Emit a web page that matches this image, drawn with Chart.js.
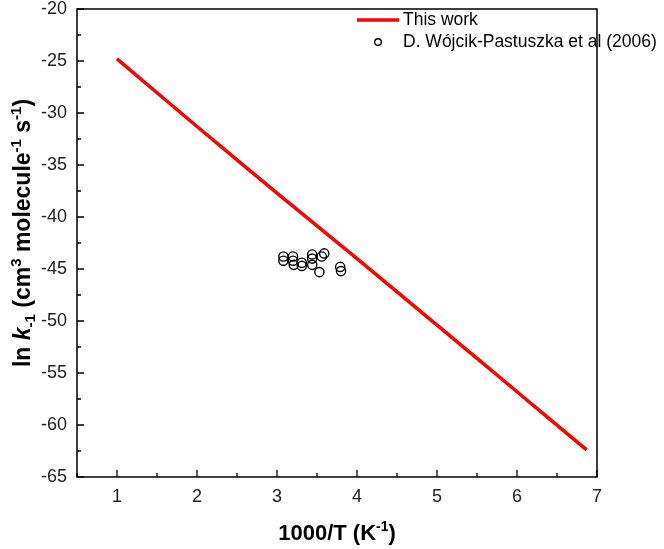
<!DOCTYPE html>
<html>
<head>
<meta charset="utf-8">
<script src="https://cdn.jsdelivr.net/npm/chart.js@4"></script>
<style>
  html, body { margin: 0; padding: 0; background: #fff; }
  #wrap { width: 664px; height: 549px; }
</style>
</head>
<body>
<div id="wrap"><canvas id="chart" width="664" height="549"></canvas></div>
<script>
// Calculated curve ("This work")
const workX = [1, 2, 3, 4, 5, 6, 6.87];
const workY = [-24.8, -31.3, -37.7, -44.0, -50.4, -56.8, -62.4];

// Experimental points, D. Wójcik-Pastuszka et al (2006)
const expX = [3.08, 3.08, 3.20, 3.20, 3.21, 3.31, 3.31, 3.44, 3.44, 3.44, 3.56, 3.59, 3.53, 3.79, 3.80];
const expY = [-43.8, -44.2, -43.8, -44.2, -44.6, -44.4, -44.7, -43.6, -44.0, -44.6, -43.8, -43.5, -45.3, -44.8, -45.2];

const xTicks = [1, 2, 3, 4, 5, 6, 7];
const yTicks = [-65, -60, -55, -50, -45, -40, -35, -30, -25, -20];

const FONT = '"Liberation Sans", Arial, sans-serif';

// Frame, inward ticks, titles and legend
const decorPlugin = {
    id: 'decor',
    afterDraw(chart) {
        const ctx = chart.ctx;
        const a = chart.chartArea;
        const xs = chart.scales.x, ys = chart.scales.y;
        ctx.save();
        ctx.strokeStyle = '#000';
        ctx.lineWidth = 1.5;
        ctx.strokeRect(a.left, a.top, a.right - a.left, a.bottom - a.top);

        // ticks pointing in
        ctx.lineWidth = 1.3;
        ctx.beginPath();
        for (let v = 0.5; v <= 7.001; v += 0.5) {
            const px = xs.getPixelForValue(v);
            const len = Number.isInteger(v) ? 7 : 4;
            ctx.moveTo(px, a.bottom);
            ctx.lineTo(px, a.bottom - len);
        }
        for (let v = -65; v <= -20; v += 2.5) {
            const py = ys.getPixelForValue(v);
            const len = v % 5 === 0 ? 7 : 4;
            ctx.moveTo(a.left, py);
            ctx.lineTo(a.left + len, py);
        }
        ctx.stroke();

        // x title
        ctx.fillStyle = '#000';
        ctx.textBaseline = 'alphabetic';
        drawRich(ctx, [
            { t: '1000/T (K', f: 'bold 22px ' + FONT, dy: 0 },
            { t: '-1', f: 'bold 14px ' + FONT, dy: -9 },
            { t: ')', f: 'bold 22px ' + FONT, dy: 0 }
        ], (a.left + a.right) / 2, 540);

        // y title, rotated
        ctx.save();
        ctx.translate(30, 233);
        ctx.rotate(-Math.PI / 2);
        drawRich(ctx, [
            { t: 'ln ', f: 'bold 23px ' + FONT, dy: 0 },
            { t: 'k', f: 'italic bold 23px ' + FONT, dy: 0 },
            { t: '-1', f: 'bold 15px ' + FONT, dy: 5 },
            { t: ' (cm', f: 'bold 23px ' + FONT, dy: 0 },
            { t: '3', f: 'bold 15px ' + FONT, dy: -9 },
            { t: ' molecule', f: 'bold 23px ' + FONT, dy: 0 },
            { t: '-1', f: 'bold 15px ' + FONT, dy: -9 },
            { t: ' s', f: 'bold 23px ' + FONT, dy: 0 },
            { t: '-1', f: 'bold 15px ' + FONT, dy: -9 },
            { t: ')', f: 'bold 23px ' + FONT, dy: 0 }
        ], 0, 0);
        ctx.restore();

        // legend
        ctx.font = '17.5px ' + FONT;
        ctx.textBaseline = 'middle';
        ctx.textAlign = 'left';
        ctx.strokeStyle = '#ff0000';
        ctx.lineWidth = 3.5;
        ctx.beginPath();
        ctx.moveTo(357, 20);
        ctx.lineTo(399, 20);
        ctx.stroke();
        ctx.fillText('This work', 403, 20);
        ctx.strokeStyle = '#000';
        ctx.lineWidth = 1.4;
        ctx.beginPath();
        ctx.arc(378, 42, 3.3, 0, Math.PI * 2);
        ctx.stroke();
        ctx.fillText('D. Wójcik-Pastuszka et al (2006)', 403, 42);
        ctx.restore();
    }
};

function drawRich(ctx, parts, cx, cy) {
    let w = 0;
    parts.forEach(p => { ctx.font = p.f; w += ctx.measureText(p.t).width; });
    let x = cx - w / 2;
    ctx.textAlign = 'left';
    parts.forEach(p => {
        ctx.font = p.f;
        ctx.fillText(p.t, x, cy + p.dy);
        x += ctx.measureText(p.t).width;
    });
}

new Chart(document.getElementById('chart'), {
    type: 'scatter',
    data: {
        datasets: [
            {
                label: 'This work',
                data: workX.map((x, i) => ({ x: x, y: workY[i] })),
                showLine: true,
                borderColor: '#ff0000',
                borderWidth: 3.5,
                pointRadius: 0,
                tension: 0.3
            },
            {
                label: 'D. Wójcik-Pastuszka et al (2006)',
                data: expX.map((x, i) => ({ x: x, y: expY[i] })),
                showLine: false,
                borderColor: '#000',
                backgroundColor: 'rgba(0,0,0,0)',
                borderWidth: 1.4,
                pointRadius: 4.6
            }
        ]
    },
    options: {
        responsive: false,
        animation: false,
        layout: { padding: { top: 9, right: 67, left: 0, bottom: 0 } },
        plugins: {
            legend: { display: false },
            tooltip: { enabled: false }
        },
        scales: {
            x: {
                type: 'linear',
                min: 0.5,
                max: 7,
                afterBuildTicks: (s) => { s.ticks = xTicks.map(v => ({ value: v })); },
                afterFit: (s) => { s.height = 72; s.paddingLeft = 0; s.paddingRight = 0; },
                grid: { display: false, drawTicks: false },
                border: { display: false },
                ticks: { color: '#222', font: { family: FONT, size: 18 }, padding: 9 }
            },
            y: {
                type: 'linear',
                min: -65,
                max: -20,
                afterBuildTicks: (s) => { s.ticks = yTicks.map(v => ({ value: v })); },
                afterFit: (s) => { s.width = 77; s.paddingTop = 0; s.paddingBottom = 0; },
                grid: { display: false, drawTicks: false },
                border: { display: false },
                ticks: { color: '#222', font: { family: FONT, size: 18 }, padding: 10 }
            }
        }
    },
    plugins: [decorPlugin]
});
</script>
</body>
</html>
